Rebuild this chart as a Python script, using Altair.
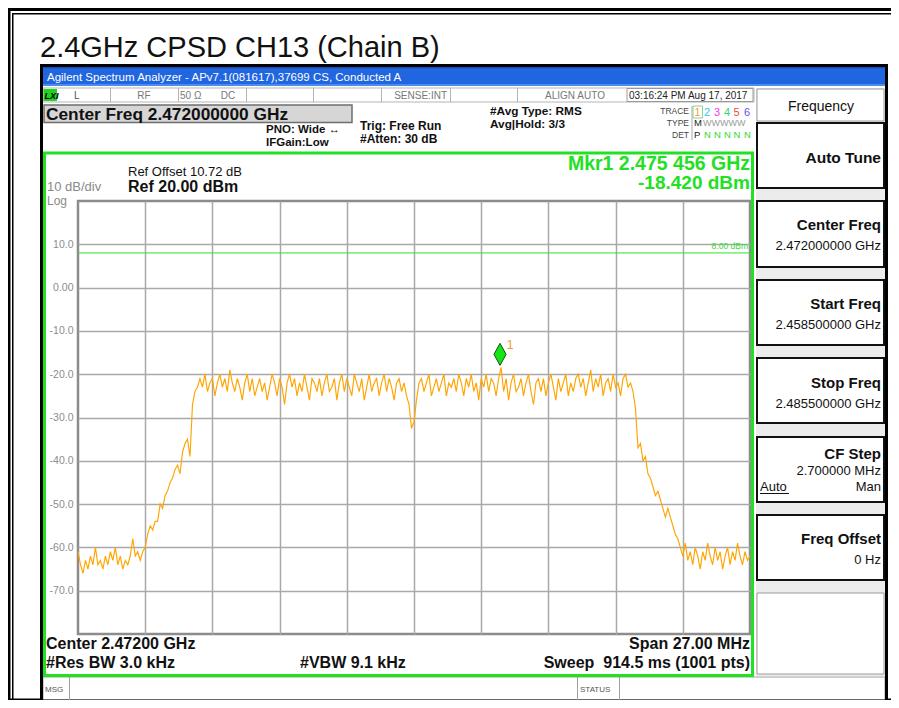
import altair as alt
import pandas as pd

# ---------------- data ----------------
START_GHZ = 2.4585
STOP_GHZ = 2.4855

floor_left = [-61, -64, -66, -63, -65, -62, -64, -60, -64, -63,
              -65, -62, -64, -61, -63, -60, -64, -62, -65, -63,
              -64, -62, -58, -62, -61, -63, -61]
rising_edge = [-60, -57, -55, -56, -54, -54, -50, -51, -48, -47,
               -45, -44, -42, -41, -43, -38, -36, -35, -39, -27,
               -24, -23]
plateau_left = [
    -21, -23, -20, -24, -22, -21, -25, -22, -20, -23, -21, -24,
    -19, -22, -24, -21, -23, -26, -22, -20, -24, -21, -25, -23,
    -21, -24, -22, -26, -23, -20, -22, -25, -21, -23, -27, -22,
    -20, -23, -21, -25, -22, -24, -20, -23, -26, -21, -22, -24,
    -21, -25, -22, -20, -24, -23, -21, -26, -22, -20, -24, -21,
    -23, -25, -20, -22, -24, -21, -26, -23, -20, -24, -22, -21,
    -25, -22, -20, -24, -21, -23, -26, -22, -21, -24]
center_dip = [-22, -25, -27, -32.5, -31, -26, -22]
plateau_right = [
    -21, -24, -22, -20, -25, -23, -21, -24, -22, -20, -25, -22, -23,
    -21, -24, -20, -22, -25, -21, -23, -20, -24, -22, -26, -21, -23,
    -20, -24, -21, -22, -25, -21,
    -18.42,
    -24, -21, -26, -22, -20, -24, -23, -21, -25, -22, -20, -24, -27, -22, -21,
    -24, -21, -25, -22, -20, -23, -26, -21, -24, -22, -20, -25, -22, -24, -21,
    -20, -23, -21, -25, -22, -19, -24, -21, -23, -20, -25, -22, -21, -24, -20,
    -23, -22, -25, -21, -20, -23]
falling_edge = [-22, -24, -28, -37, -36, -40, -39, -43, -44, -46,
                -48, -47, -49, -51, -53, -51, -53, -55, -57, -58,
                -60, -62]
floor_right = [-59, -63, -61, -64, -60, -62, -65, -61, -63, -59,
               -62, -64, -60, -63, -61, -65, -62, -60, -64, -61,
               -63, -59, -62, -64, -61, -63, -62]

levels = floor_left + rising_edge + plateau_left + center_dip + plateau_right + falling_edge + floor_right
n_pts = len(levels)
sweep_step = (STOP_GHZ - START_GHZ) / (n_pts - 1)
freqs = [START_GHZ + i * sweep_step for i in range(n_pts)]

x_grid = [2.4612, 2.4639, 2.4666, 2.4693, 2.4720, 2.4747, 2.4774, 2.4801, 2.4828]
y_ticks = [10, 0, -10, -20, -30, -40, -50, -60, -70]
display_line = [8.0]
marker_freq = [2.475456]
marker_level = [-18.42]

# ---------------- layout ----------------
FONT = "Liberation Sans"
OX, OY = 78, 201          # page position of the graph's top-left corner
W, H = 672, 433
GREEN = "#22e022"


def px(X):
    return X - OX


def py(Y):
    return Y - OY


# rects: (x1, y1, x2, y2, fill, stroke, strokeWidth)
rects = [
    (5, 5, 891, 11, "#000000", "transparent", 0),
    (12, 13, 891, 14.5, "#000000", "transparent", 0),
    (5, 5, 10.5, 700, "#000000", "transparent", 0),
    (12, 13, 13.5, 700, "#000000", "transparent", 0),
    (5, 698.5, 891, 700, "#000000", "transparent", 0),
    (43, 67, 885, 86, "#2066e0", "transparent", 0),
    (43, 67, 885, 68.5, "#1a4fb8", "transparent", 0),
    (43, 84, 885, 86, "#4a8cf0", "transparent", 0),
    (43, 88, 754, 102, "#ffffff", "#b5b5b5", 1),
    (43.5, 89, 57, 101, "#1fd41f", "transparent", 0),
    (627, 88.5, 753, 101.5, "transparent", "#9a9a9a", 1),
    (44, 105, 352, 122.5, "#d6d6d6", "#6e6e6e", 1.5),
    (691.5, 106, 692.5, 140, "#aaaaaa", "transparent", 0),
    (693, 106, 702.5, 118, "transparent", "#8fd08f", 1),
    (756, 88, 886, 676, "#ececec", "transparent", 0),
    (757, 89, 884, 121, "#ffffff", "#9a9a9a", 1),
    (757, 123, 884, 188, "#ffffff", "#111111", 2),
    (757, 201, 884, 267, "#ffffff", "#111111", 2),
    (757, 280, 884, 345, "#ffffff", "#111111", 2),
    (757, 358, 884, 423, "#ffffff", "#111111", 2),
    (757, 437, 884, 502, "#ffffff", "#111111", 2),
    (757, 515, 884, 580, "#ffffff", "#111111", 2),
    (757, 593, 884, 674, "#ffffff", "#9a9a9a", 1),
    (760, 493, 789, 494, "#111111", "transparent", 0),
    (43, 677, 885, 700, "#ffffff", "#a0a0a0", 1),
    (44.5, 153, 752.5, 675.5, "transparent", GREEN, 3),
    (41.5, 65.5, 886.5, 701, "transparent", "#000000", 3),
]
for sx in [110, 178, 246, 313, 381, 450, 517]:
    rects.append((sx, 88, sx + 1, 102, "#b5b5b5", "transparent", 0))
for sx in [69, 577, 619]:
    rects.append((sx, 677, sx + 1, 700, "#a0a0a0", "transparent", 0))

rect_df = pd.DataFrame([{"x": px(r[0]), "y": py(r[1]), "x2": px(r[2]), "y2": py(r[3]),
                         "fill": r[4], "stroke": r[5], "sw": r[6]} for r in rects])

rect_layer = alt.Chart(rect_df).mark_rect().encode(
    x=alt.X("x:Q", scale=None, axis=None),
    x2="x2:Q",
    y=alt.Y("y:Q", scale=None, axis=None),
    y2="y2:Q",
    fill=alt.Fill("fill:N", scale=None, legend=None),
    stroke=alt.Stroke("stroke:N", scale=None, legend=None),
    strokeWidth=alt.StrokeWidth("sw:Q", scale=None, legend=None),
)

# texts: (text, x, baseline y, size, color)
left_normal = [
    ("2.4GHz CPSD CH13 (Chain B)", 40, 57, 29, "#111111"),
    ("Agilent Spectrum Analyzer - APv7.1(081617),37699 CS, Conducted A", 47, 81, 11.5, "#ffffff"),
    ("L", 74, 99, 10, "#555555"),
    ("50 \u03a9", 180, 99, 10, "#777777"),
    ("03:16:24 PM Aug 17, 2017", 629, 99, 10, "#222222"),
    ("Ref Offset 10.72 dB", 128, 176, 13, "#111111"),
    ("10 dB/div", 47, 190.5, 13, "#8a8a8a"),
    ("Log", 47, 204.5, 12, "#8a8a8a"),
    ("1", 694.5, 116, 11, "#f0a030"),
    ("2", 704, 116, 11, "#2ec8f0"),
    ("3", 714, 116, 11, "#f040f0"),
    ("4", 724, 116, 11, "#30d870"),
    ("5", 733.5, 116, 11, "#f04848"),
    ("6", 744, 116, 11, "#6a4cf0"),
    ("M", 694, 126, 9.5, "#222222"),
    ("WWWWW", 703, 126, 9, "#9a9a9a"),
    ("P", 694, 137.5, 9.5, "#222222"),
    ("N", 704, 137.5, 9.5, "#30d830"),
    ("N", 714, 137.5, 9.5, "#30d830"),
    ("N", 724, 137.5, 9.5, "#30d830"),
    ("N", 733.5, 137.5, 9.5, "#30d830"),
    ("N", 744, 137.5, 9.5, "#30d830"),
    ("Auto", 760, 491, 13, "#111111"),
    ("MSG", 45, 692, 8, "#555555"),
    ("STATUS", 580, 692, 8, "#555555"),
]
center_normal = [
    ("RF", 144, 99, 10, "#777777"),
    ("DC", 228, 99, 10, "#777777"),
    ("ALIGN AUTO", 575, 99, 10, "#777777"),
    ("Frequency", 821, 111, 14, "#111111"),
]
right_normal = [
    ("SENSE:INT", 447, 99, 10, "#777777"),
    ("TRACE", 689, 114, 8.5, "#444444"),
    ("TYPE", 689, 126, 8.5, "#444444"),
    ("DET", 689, 137.5, 8.5, "#444444"),
    ("2.472000000 GHz", 881, 250, 13, "#111111"),
    ("2.458500000 GHz", 881, 329, 13, "#111111"),
    ("2.485500000 GHz", 881, 408, 13, "#111111"),
    ("2.700000 MHz", 881, 475, 13, "#111111"),
    ("Man", 881, 491, 13, "#111111"),
    ("0 Hz", 881, 564, 13, "#111111"),
]
left_bold = [
    ("Center Freq 2.472000000 GHz", 46, 119.5, 17.3, "#111111"),
    ("PNO: Wide \u2194", 266, 133, 11.5, "#111111"),
    ("IFGain:Low", 266, 146, 11.5, "#111111"),
    ("Trig: Free Run", 360, 130, 12, "#111111"),
    ("#Atten: 30 dB", 360, 143, 12, "#111111"),
    ("#Avg Type: RMS", 490, 115, 11.8, "#111111"),
    ("Avg|Hold: 3/3", 490, 127.5, 11.8, "#111111"),
    ("Ref 20.00 dBm", 128, 192, 16, "#111111"),
    ("Center 2.47200 GHz", 46, 649, 16, "#111111"),
    ("#Res BW 3.0 kHz", 46, 668, 16, "#111111"),
    ("#VBW 9.1 kHz", 300, 668, 16, "#111111"),
]
right_bold = [
    ("Mkr1 2.475 456 GHz", 750, 170, 19.5, GREEN),
    ("-18.420 dBm", 750, 189, 19, GREEN),
    ("Span 27.00 MHz", 750, 649, 16, "#111111"),
    ("Sweep \u00a0914.5 ms (1001 pts)", 750, 668, 16, "#111111"),
    ("Auto Tune", 881, 163, 15.5, "#111111"),
    ("Center Freq", 881, 230, 15, "#111111"),
    ("Start Freq", 881, 309, 15, "#111111"),
    ("Stop Freq", 881, 388, 15, "#111111"),
    ("CF Step", 881, 459, 15, "#111111"),
    ("Freq Offset", 881, 544, 15, "#111111"),
]
logo_text = [("LXI", 44.5, 99, 9, "#000000")]


def text_layer(rows, align="left", weight="normal", style="normal"):
    df = pd.DataFrame([{"x": px(r[1]), "y": py(r[2]), "text": r[0], "size": r[3], "color": r[4]}
                       for r in rows])
    return alt.Chart(df).mark_text(align=align, baseline="alphabetic", fontWeight=weight,
                                   font=FONT, fontStyle=style).encode(
        x=alt.X("x:Q", scale=None, axis=None),
        y=alt.Y("y:Q", scale=None, axis=None),
        text="text:N",
        color=alt.Color("color:N", scale=None, legend=None),
        size=alt.Size("size:Q", scale=None, legend=None),
    )


# ---------------- spectrum ----------------
x_scale = alt.Scale(domain=[START_GHZ, STOP_GHZ], nice=False, zero=False)
y_scale = alt.Scale(domain=[-80, 20], nice=False, zero=False)
x_axis = alt.Axis(values=x_grid, labels=False, ticks=False, domain=False, grid=True,
                  gridColor="#a9a9a9", gridWidth=1.5, title=None)
y_axis = alt.Axis(values=y_ticks, ticks=False, domain=False, grid=True, gridColor="#a9a9a9",
                  gridWidth=1.5, title=None, labelColor="#8c8c8c", labelFontSize=10.5,
                  labelFont=FONT, labelPadding=5,
                  labelExpr="datum.value == 0 ? '0.00' : (datum.value < 0 ? '-' + format(-datum.value, '.1f') : format(datum.value, '.1f'))")


def xenc():
    return alt.X("f:Q", scale=x_scale, axis=x_axis)


def yenc():
    return alt.Y("dbm:Q", scale=y_scale, axis=y_axis)


trace_df = pd.DataFrame({"f": freqs, "dbm": levels})
trace = alt.Chart(trace_df).mark_line(color="#ffa400", strokeWidth=1.15).encode(x=xenc(), y=yenc())

dl_df = pd.DataFrame({"f": [STOP_GHZ], "dbm": display_line,
                      "lbl": ["%.2f dBm" % v for v in display_line]})
dl_rule = alt.Chart(dl_df).mark_rule(color="#33dd33", strokeWidth=1).encode(y=yenc())
dl_text = alt.Chart(dl_df).mark_text(align="right", baseline="alphabetic", dx=-2, dy=-4,
                                     color="#33dd33", fontSize=8.5, font=FONT).encode(
    x=xenc(), y=yenc(), text="lbl:N")

mk_df = pd.DataFrame({"f": marker_freq, "dbm": marker_level})
mk_point = alt.Chart(mk_df).mark_point(shape="M0,-1L0.55,0L0,1L-0.55,0Z", size=484, filled=True,
                                       fill="#14e614", stroke="#1b4d1b", strokeWidth=1,
                                       opacity=1, yOffset=-13).encode(x=xenc(), y=yenc())
mk_text = alt.Chart(mk_df).mark_text(text="1", dx=10, dy=-22, color="#f0a030", fontSize=13,
                                     font=FONT, baseline="middle").encode(x=xenc(), y=yenc())

chart = alt.layer(
    rect_layer,
    text_layer(left_normal, "left", "normal"),
    text_layer(center_normal, "center", "normal"),
    text_layer(right_normal, "right", "normal"),
    text_layer(left_bold, "left", "bold"),
    text_layer(right_bold, "right", "bold"),
    text_layer(logo_text, "left", "bold", "italic"),
    dl_rule,
    dl_text,
    trace,
    mk_point,
    mk_text,
).properties(
    width=W,
    height=H,
    autosize=alt.AutoSizeParams(type="none"),
    padding={"left": 70, "top": 193, "right": 141, "bottom": 66},
).configure(background="white").configure_view(stroke="#8c8c8c", strokeWidth=2.5)

chart.save("out.html", embed_options={"renderer": "svg", "actions": False})
